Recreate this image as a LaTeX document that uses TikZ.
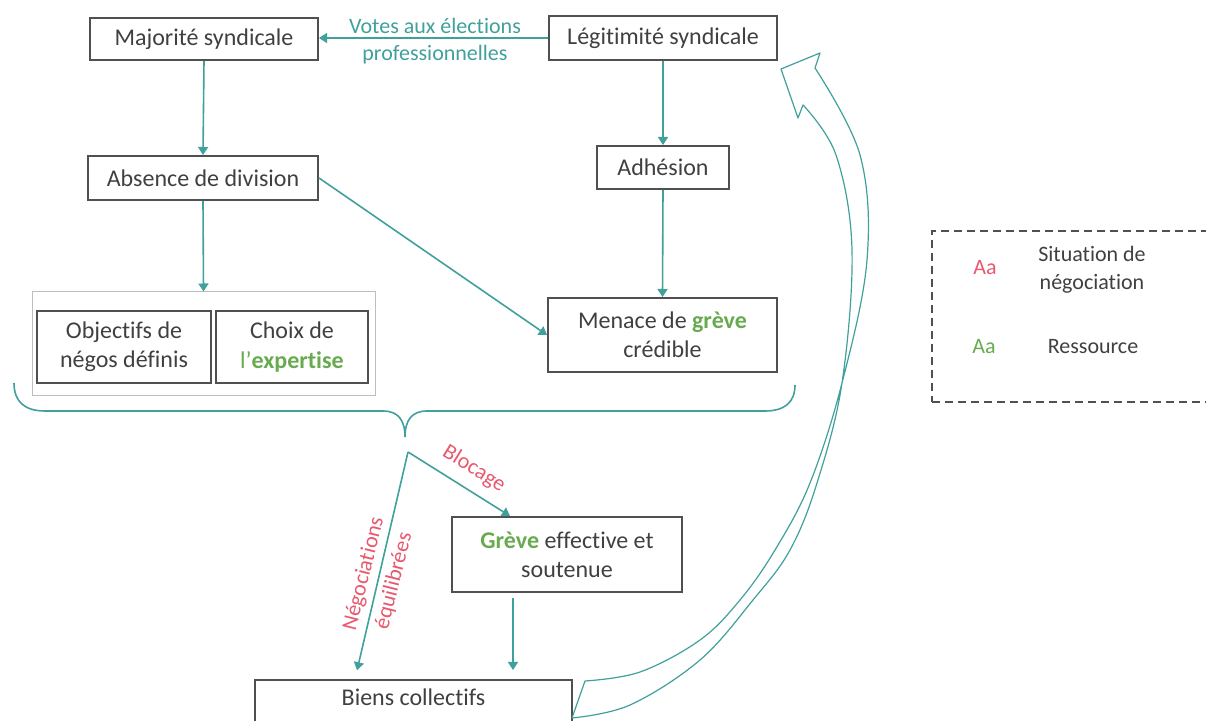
\documentclass[tikz,border=0pt]{standalone}
\usepackage{fontspec}
\setmainfont{Carlito}[Ligatures=NoCommon]
\usetikzlibrary{arrows.meta,calc}
\definecolor{tealc}{RGB}{64,160,155}
\definecolor{redc}{RGB}{232,88,110}
\definecolor{greenc}{RGB}{104,170,80}
\definecolor{boxc}{RGB}{80,80,80}
\definecolor{txtc}{RGB}{64,64,64}
\definecolor{lgray}{RGB}{190,190,190}
\begin{document}
\begin{tikzpicture}[x=0.5pt,y=-0.5pt,
  box/.style={draw=boxc,line width=1pt,text=txtc,align=center,inner sep=0pt,font=\fontsize{12}{14.6}\selectfont},
  arr/.style={draw=tealc,line width=0.8pt,-{Triangle[width=5pt,length=4pt]}},
  lbl/.style={font=\fontsize{11}{14}\selectfont,align=center,inner sep=0pt}]
\useasboundingbox (0,0) rectangle (1206,721);

% boxes
\node[box,minimum width=114pt,minimum height=21pt] (major) at (204,39) {Majorité syndicale};
\node[box,minimum width=114pt,minimum height=22pt] (legit) at (663,38) {Légitimité syndicale};
\node[box,minimum width=115pt,minimum height=22pt] (absence) at (203,178) {Absence de division};
\node[box,minimum width=66pt,minimum height=21.5pt] (adh) at (663,167.5) {Adhésion};
\node[box,minimum width=114.5pt,minimum height=37pt] (menace) at (662.5,335) {Menace de \textbf{\color{greenc}grève}\\crédible};
\node[draw=lgray,line width=0.5pt,minimum width=171.5pt,minimum height=52pt,inner sep=0pt] (grp) at (203.5,344) {};
\node[box,minimum width=87pt,minimum height=36pt] (obj) at (124,347) {Objectifs de\\négos définis};
\node[box,minimum width=76pt,minimum height=36pt] (choix) at (292,347) {Choix de\\{\color{greenc}l’\textbf{expertise}}};
\node[box,minimum width=115pt,minimum height=37.5pt] (greve) at (567,554.5) {{\color{greenc}\textbf{Grève}} effective et\\soutenue};
\node[box,minimum width=158.5pt,minimum height=30pt] (biens) at (413.5,710) {};
\node[text=txtc,font=\fontsize{12}{14.6}\selectfont,inner sep=0pt] (bienst) at (413.5,697) {Biens collectifs};

% connectors
\draw[arr] (legit.west) -- (legit.west -| major.east);
\node[lbl,text=tealc] (votes1) at (435,26) {Votes aux élections};
\node[lbl,text=tealc] (votes2) at (435,55) {professionnelles};
\draw[arr] (major.south) -- (absence.north);
\draw[arr] (legit.south) -- (adh.north);
\draw[arr] (adh.south) -- (menace.north);
\draw[arr] (absence.east) -- (menace.west);
\draw[arr] (absence.south) -- (grp.north);

% brace
\draw[tealc,line width=0.8pt] (14,383) .. controls (14,402) and (25,411) .. (45,411) -- (383,411)
  .. controls (398,411) and (405,420) .. (405,437)
  .. controls (405,420) and (412,411) .. (427,411) -- (765,411)
  .. controls (785,411) and (795,402) .. (795,385);

\coordinate (split) at (408,452);
\draw[arr,shorten >=4.5pt] (split) -- (biens.north -| 355,0);
\draw[arr] (split) -- (greve.north -| 510,0);
\draw[arr,shorten <=2.5pt,shorten >=4.5pt] (greve.south -| 513,0) -- (biens.north -| 513,0);
\node[lbl,text=redc,rotate=-31.7] (bloc) at (474,469) {Blocage};
\node[lbl,text=redc,rotate=76] (nego1) at (364,574) {Négociations};
\node[lbl,text=redc,rotate=76] (nego2) at (394,581) {équilibrées};

% hollow curved arrow
\draw[tealc,line width=0.6pt,line join=round]
  plot[smooth,tension=0.6] coordinates {(585,681) (640,672) (700,640) (740,600) (775,550) (810,483) (842,383) (867,260) (860,155) (815,68)}
  -- (820,53) -- (781,69) -- (798,118) -- (803,105)
  -- plot[smooth,tension=0.6] coordinates {(803,105) (836,155) (852,250) (842,383) (817,483) (790,550) (753,600) (700,660) (630,705) (572,718)}
  -- cycle;

% legend
\node[draw=boxc,dash pattern=on 4pt off 2.5pt,line width=0.8pt,minimum width=150pt,minimum height=85.5pt,inner sep=0pt] (legend) at (1082,316.5) {};
\node[lbl,text=redc] (aa1) at (985,268) {Aa};
\node[lbl,text=txtc] (sit) at (1092,270) {Situation de\\négociation};
\node[lbl,text=greenc] (aa2) at (984,347) {Aa};
\node[lbl,text=txtc] (res) at (1093,347) {Ressource};
\end{tikzpicture}
\end{document}
